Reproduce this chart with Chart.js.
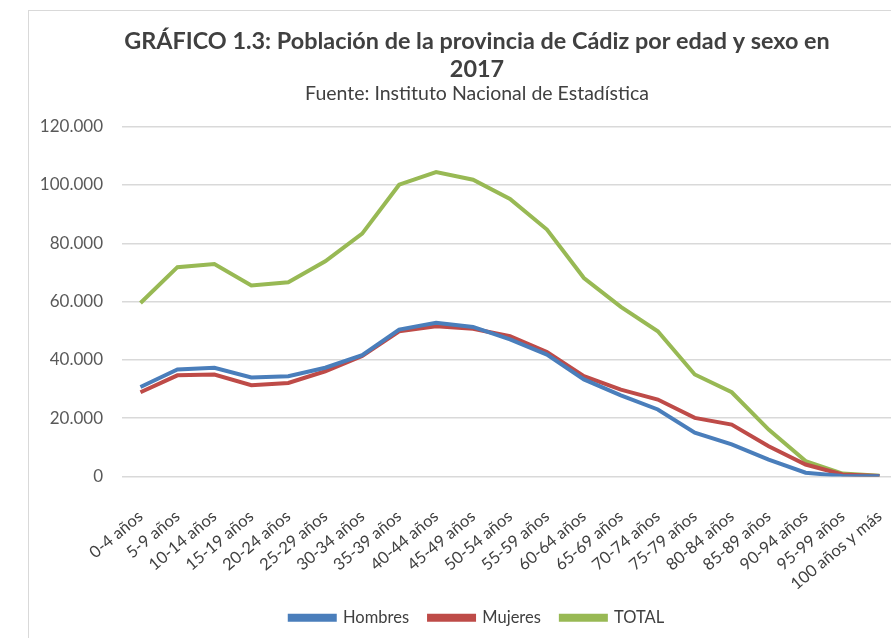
<!DOCTYPE html>
<html>
<head>
<meta charset="utf-8">
<script src="https://cdn.jsdelivr.net/npm/chart.js@4.4.1/dist/chart.umd.min.js"></script>
<style>
  html, body { margin: 0; padding: 0; background: #fff; overflow: hidden; }
  #box {
    position: absolute; left: 28px; top: 10px;
    width: 900px; height: 628px;
    border-left: 1px solid #d9d9d9; border-top: 1px solid #d9d9d9;
  }
</style>
</head>
<body>
<div id="box"><canvas id="myChart"></canvas></div>
<script>
const labels = ['0-4 años', '5-9 años', '10-14 años', '15-19 años', '20-24 años', '25-29 años',
    '30-34 años', '35-39 años', '40-44 años', '45-49 años', '50-54 años', '55-59 años',
    '60-64 años', '65-69 años', '70-74 años', '75-79 años', '80-84 años', '85-89 años',
    '90-94 años', '95-99 años', '100 años y más']
const hombres = [30700, 36700, 37300, 34000, 34400, 37300, 41600, 50400, 52700, 51300, 47000,
    41800, 33300, 27800, 23000, 15000, 11000, 5800, 1300, 200, 50]
const mujeres = [28900, 34700, 35000, 31300, 32100, 36100, 41300, 49800, 51500, 50700, 48100,
    42700, 34400, 29800, 26400, 20100, 17800, 10400, 4100, 700, 200]
const total = [59500, 71800, 72900, 65500, 66600, 73800, 83300, 100100, 104400, 101800, 95200,
    84700, 68100, 58200, 49800, 35000, 28900, 16100, 5300, 1000, 300]

const font = 'Lato, "Open Sans", sans-serif'

function miles(v) {
    return String(v).replace(/\B(?=(\d{3})+(?!\d))/g, '.')
}

function serie(label, data, color) {
    return {
        label: label,
        data: data,
        borderColor: color,
        backgroundColor: color,
        borderWidth: 4,
        pointRadius: 0,
        tension: 0
    }
}

new Chart(document.getElementById('myChart'), {
    type: 'line',
    data: {
        labels: labels,
        datasets: [
            serie('Hombres', hombres, '#4a7ebb'),
            serie('Mujeres', mujeres, '#be4b48'),
            serie('TOTAL', total, '#98b954')
        ]
    },
    options: {
        responsive: true,
        maintainAspectRatio: false,
        animation: false,
        layout: { padding: { left: 0, right: 4, top: 10, bottom: 3 } },
        plugins: {
            title: {
                display: true,
                text: ['GRÁFICO 1.3: Población de la provincia de Cádiz por edad y sexo en', '2017'],
                color: '#404040',
                font: { family: font, size: 23.4, weight: 'bold', lineHeight: 1.2 },
                padding: { top: 6, bottom: 0 }
            },
            subtitle: {
                display: true,
                text: 'Fuente: Instituto Nacional de Estadística',
                color: '#404040',
                font: { family: font, size: 19.5, lineHeight: 1.0 },
                padding: { top: 1, bottom: 23 }
            },
            legend: {
                position: 'bottom',
                labels: {
                    boxWidth: 45,
                    boxHeight: 4,
                    padding: 20,
                    color: '#404040',
                    font: { family: font, size: 16.5 }
                }
            },
            tooltip: { enabled: false }
        },
        scales: {
            x: {
                offset: true,
                grid: { display: false },
                border: { display: false },
                ticks: {
                    color: '#404040',
                    font: { family: font, size: 16.5 },
                    minRotation: 40,
                    maxRotation: 40,
                    padding: 22,
                    autoSkip: false
                },
                // fixed sizes so the plot area does not depend on text measuring
                afterFit: scale => {
                    scale.paddingLeft = 0
                    scale.paddingRight = 31
                    scale.height = 113
                }
            },
            y: {
                min: 0,
                max: 120000,
                grid: { color: '#d9d9d9', lineWidth: 1.5, drawTicks: false },
                border: { display: false },
                ticks: {
                    stepSize: 20000,
                    padding: 19,
                    color: '#595959',
                    font: { family: font, size: 17 },
                    callback: v => miles(v)
                },
                afterFit: scale => {
                    scale.width = 93
                }
            }
        }
    }
})
</script>
</body>
</html>
